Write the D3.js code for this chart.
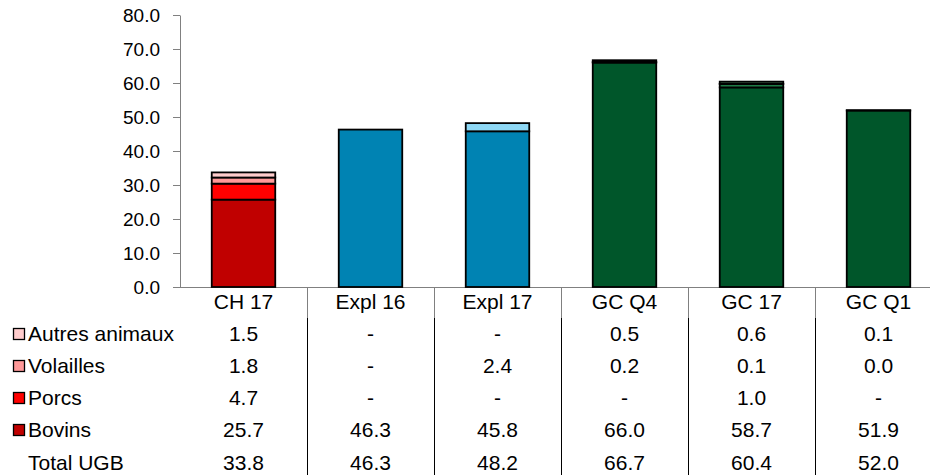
<!DOCTYPE html>
<html><head><meta charset="utf-8">
<script src="https://cdn.jsdelivr.net/npm/d3@7"></script>
<style>body{margin:0;background:#fff}svg{display:block;font-family:"Liberation Sans",Arial,sans-serif}</style>
</head><body><svg id="c" width="930" height="475"></svg>
<script>
const categories = ["CH 17","Expl 16","Expl 17","GC Q4","GC 17","GC Q1"];
const seriesNames = ["Bovins","Porcs","Volailles","Autres animaux"];
const bovins   = [25.7, 46.3, 45.8, 66.0, 58.7, 51.9];
const porcs    = [4.7, null, null, null, 1.0, null];
const volailles= [1.8, null, 2.4, 0.2, 0.1, 0.0];
const autres   = [1.5, null, null, 0.5, 0.6, 0.1];
const totals   = [33.8, 46.3, 48.2, 66.7, 60.4, 52.0];
const yTicks   = [0,10,20,30,40,50,60,70,80];
const groupOf  = ["CH","Expl","Expl","GC","GC","GC"];
const palette = {
  CH:   ["#C00000","#FF0000","#FF9999","#FFCCCC"],
  Expl: ["#0083B3","#33A6D6","#8ED8F5","#C6ECFA"],
  GC:   ["#00562A","#1F7A45","#3C9A60","#8CCB9E"]
};

const svg = d3.select("#c");
const x = d3.scaleBand().domain(categories).range([180, 942]).paddingInner(0.5).paddingOuter(0.25);
const y = d3.scaleLinear().domain([0, 80]).range([287, 15]);
const FS = 21;

// y axis
const ya = svg.append("g").attr("transform","translate(180,0)")
  .call(d3.axisLeft(y).tickValues(yTicks).tickFormat(d3.format(".1f")).tickSize(7).tickSizeOuter(0));
ya.select(".domain").attr("stroke","#808080");
ya.selectAll(".tick line").attr("stroke","#808080");
ya.selectAll(".tick text").attr("font-size",19).attr("fill","#000").attr("font-family","Liberation Sans, Arial").attr("x",-20);

// x axis line
svg.append("line").attr("x1",173).attr("x2",930).attr("y1",287.5).attr("y2",287.5).attr("stroke","#808080");

// stacked data
const rows = [bovins, porcs, volailles, autres];
const data = categories.map((c,i)=>{const o={cat:c}; seriesNames.forEach((s,k)=>o[s]=rows[k][i]||0); return o;});
const stack = d3.stack().keys(seriesNames)(data);
stack.forEach((layer,k)=>{
  svg.append("g").selectAll("rect").data(layer).join("rect")
    .attr("x", d=>x(d.data.cat))
    .attr("width", x.bandwidth())
    .attr("y", d=>y(d[1]))
    .attr("height", d=>Math.max(0, y(d[0])-y(d[1])))
    .attr("fill", (d,i)=>palette[groupOf[i]][k])
    .attr("stroke","#000").attr("stroke-width",1.8);
});

// table
const step = x.step();
const colStart = 180;
for (let i=1;i<categories.length;i++){
  const xx = Math.round(colStart + i*step)+0.5;
  svg.append("line").attr("x1",xx).attr("x2",xx).attr("y1",287).attr("y2",318).attr("stroke","#808080");
  svg.append("line").attr("x1",xx).attr("x2",xx).attr("y1",318).attr("y2",475).attr("stroke","#000");
}
const cx = c => x(c) + x.bandwidth()/2;
svg.append("g").selectAll("text").data(categories).join("text")
  .attr("x",cx).attr("y",302).attr("dy","0.35em").attr("text-anchor","middle").attr("font-size",FS).text(d=>d);

const tableRows = [
  {name:"Autres animaux", vals:autres, color:palette.CH[3], yy:334},
  {name:"Volailles", vals:volailles, color:palette.CH[2], yy:366},
  {name:"Porcs", vals:porcs, color:palette.CH[1], yy:398},
  {name:"Bovins", vals:bovins, color:palette.CH[0], yy:430},
  {name:"Total UGB", vals:totals, color:null, yy:463}
];
const fmt = d3.format(".1f");
tableRows.forEach(r=>{
  if (r.color) svg.append("rect").attr("x",13.5).attr("y",r.yy-5.5).attr("width",11).attr("height",11)
     .attr("fill",r.color).attr("stroke","#000").attr("stroke-width",1.3);
  svg.append("text").attr("x",28).attr("y",r.yy).attr("dy","0.35em").attr("font-size",FS).text(r.name);
  svg.append("g").selectAll("text").data(r.vals).join("text")
    .attr("x",(d,i)=>cx(categories[i])).attr("y",r.yy).attr("dy","0.35em")
    .attr("text-anchor","middle").attr("font-size",FS).text(d=>d==null?"-":fmt(d));
});
</script></body></html>
